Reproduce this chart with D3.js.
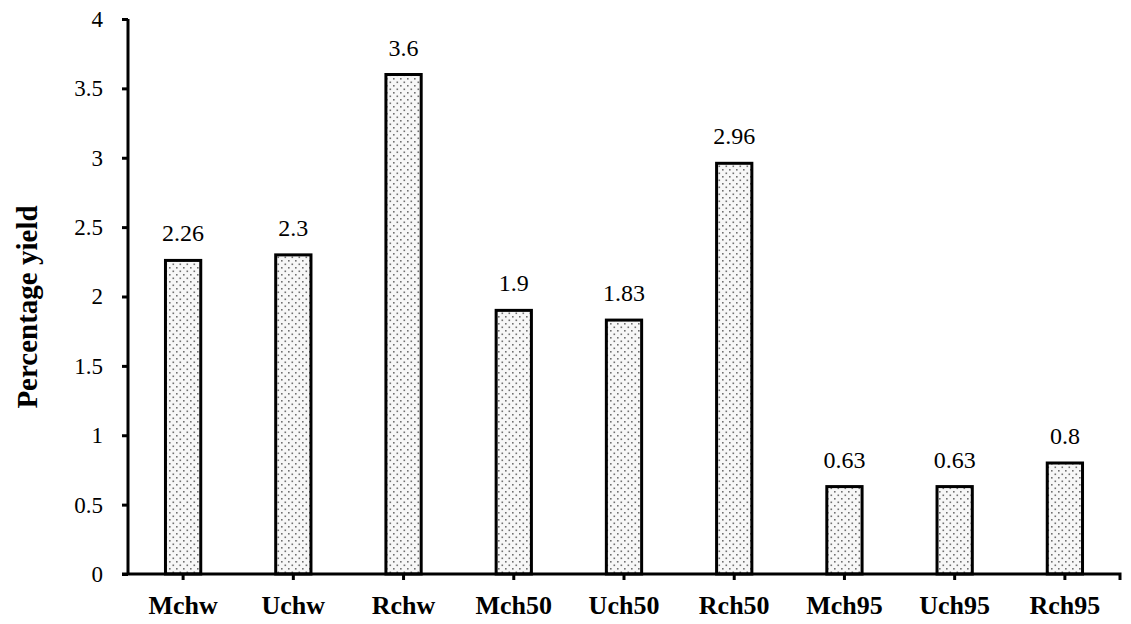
<!DOCTYPE html>
<html>
<head>
	<script src="https://cdn.jsdelivr.net/npm/d3@7/dist/d3.min.js"></script>
	<style>
		html, body {
			padding: 0;
			margin: 0;
			background: white;
		}
	</style>
</head>
<body>
	<script>
		// ~ ~ ~ DATA ~ ~ ~
		const CATEGORIES = ["Mchw", "Uchw", "Rchw", "Mch50", "Uch50", "Rch50", "Mch95", "Uch95", "Rch95"];
		const YIELDS = [2.26, 2.3, 3.6, 1.9, 1.83, 2.96, 0.63, 0.63, 0.8];
		const Y_TICKS = [0, 0.5, 1, 1.5, 2, 2.5, 3, 3.5, 4];
		const Y_LABEL = "Percentage yield";

		var width = 1131, height = 624;
		var margin = { left: 128, right: 11, top: 19, bottom: 50 };
		var FONT = "Liberation Serif";

		var svg = d3.select('body').append('svg')
			.attr('width', width)
			.attr('height', height)
			.attr('font-family', FONT);

		// dotted fill, staggered grey dots
		var defs = svg.append("defs");
		var pat = defs.append("pattern")
			.attr("id", "dots")
			.attr("patternUnits", "userSpaceOnUse")
			.attr("width", 7)
			.attr("height", 7);
		pat.append("rect").attr("width", 7).attr("height", 7).attr("fill", "#f7f7f7");
		pat.append("rect").attr("x", 1).attr("y", 1).attr("width", 1.6).attr("height", 1.6).attr("fill", "#707070");
		pat.append("rect").attr("x", 4.5).attr("y", 4.5).attr("width", 1.6).attr("height", 1.6).attr("fill", "#707070");

		var x = d3.scaleBand()
			.domain(CATEGORIES)
			.range([margin.left, width - margin.right])
			.paddingInner(0.68)
			.paddingOuter(0.34);

		var y = d3.scaleLinear()
			.domain([0, 4])
			.range([height - margin.bottom, margin.top]);

		// bars
		svg.selectAll("rect.bar")
			.data(YIELDS)
			.enter().append("rect")
			.attr("class", "bar")
			.attr("x", (d, i) => x(CATEGORIES[i]))
			.attr("y", d => y(d))
			.attr("width", x.bandwidth())
			.attr("height", d => y(0) - y(d))
			.attr("fill", "url(#dots)")
			.attr("stroke", "black")
			.attr("stroke-width", 3);

		// value labels
		svg.selectAll("text.val")
			.data(YIELDS)
			.enter().append("text")
			.attr("class", "val")
			.attr("x", (d, i) => x(CATEGORIES[i]) + x.bandwidth() / 2)
			.attr("y", d => y(d) - 19)
			.attr("text-anchor", "middle")
			.attr("font-family", FONT)
			.attr("font-size", 24)
			.text(d => d);

		// y axis
		var yAxis = svg.append("g")
			.attr("transform", "translate(" + margin.left + ",0)")
			.call(d3.axisLeft(y).tickValues(Y_TICKS).tickSize(6).tickPadding(19).tickFormat(d => d))
			.attr("font-family", FONT);
		yAxis.select(".domain").attr("stroke-width", 3).attr("d", "M0," + y(0) + "V" + y(4));
		yAxis.selectAll(".tick line").attr("stroke-width", 3);
		yAxis.selectAll(".tick text")
			.attr("font-size", 23)
			.attr("font-family", FONT)
			.attr("fill", "black");

		// x axis with ticks at bar centres
		var xAxis = svg.append("g")
			.attr("transform", "translate(0," + y(0) + ")")
			.call(d3.axisBottom(x).tickSize(6).tickPadding(16))
			.attr("font-family", FONT);
		xAxis.select(".domain").attr("stroke-width", 3)
			.attr("d", "M" + (margin.left - 6) + ",0H" + (width - margin.right) + "V6");
		xAxis.selectAll(".tick line").attr("stroke-width", 3);
		xAxis.selectAll(".tick text")
			.attr("font-size", 26)
			.attr("font-weight", "bold")
			.attr("font-family", FONT)
			.attr("fill", "black");

		// y label
		svg.append("text")
			.attr("transform", "translate(37,307) rotate(-90)")
			.attr("text-anchor", "middle")
			.attr("font-family", FONT)
			.attr("font-size", 29)
			.attr("font-weight", "bold")
			.text(Y_LABEL);
	</script>
</body>
</html>
